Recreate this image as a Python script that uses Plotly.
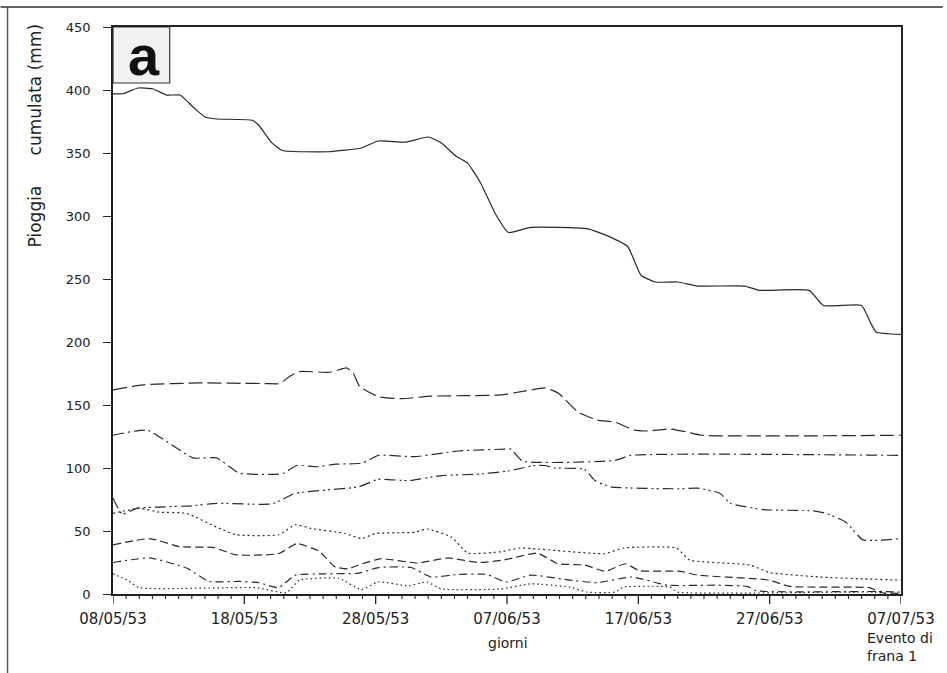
import pandas as pd
import plotly.graph_objects as go

# ---- data (days after 08/05/53, cumulative rainfall in mm) ----
start_date = "1953-05-08"
end_date = "1953-07-07"

s1_days = [0, 0.75, 1.9, 3, 4.1, 5.1, 6.1, 7, 7.9, 10.6, 11.1, 12.1, 12.9, 16.4, 18.9, 20.2, 22.3, 24, 25, 26.1, 27, 28, 29.1, 30.1, 31.8, 36.1, 37.7, 39.2, 40.2, 41.3, 43, 44.5, 48.1, 49.2, 53, 54.1, 57, 57.6, 58.1, 60]
s1_vals = [397, 397, 401.6, 401, 396, 396, 386.5, 378.6, 377, 376, 372, 358, 352, 351, 354, 359.5, 358.7, 362.7, 358, 347.6, 342, 326, 302, 287, 291, 290, 284, 275.6, 253, 247.6, 247.6, 244.4, 244.4, 241, 241, 229, 229, 217, 208, 206]

s2_days = [0, 2.3, 6.6, 11.7, 12.7, 13.5, 14.2, 16.5, 17.2, 17.8, 18.3, 18.8, 20.2, 21.9, 24.2, 29.5, 31.3, 32.9, 33.9, 35.4, 36.9, 38.2, 39.7, 40.7, 42.4, 43.7, 44.8, 60]
s2_vals = [162, 166, 167.5, 167, 167, 173, 176.5, 176, 178, 179.5, 175, 164.5, 156.6, 155, 157, 158, 161, 163.5, 159.5, 144.4, 138, 136.5, 130, 129.4, 131, 128.6, 126, 126]

s3_days = [0, 2.6, 6.1, 7.9, 9.6, 12.9, 14, 15.5, 17, 19, 20.2, 23, 26.3, 30, 30.3, 31.2, 38.2, 39.4, 60]
s3_vals = [126, 130, 108, 108, 96, 95.5, 102, 101, 103, 104, 110, 109, 113.5, 115, 115, 105.5, 106, 110, 110]

s4_days = [0, 0.7, 1.8, 3.5, 6, 7.9, 12.1, 13.9, 16.2, 18.7, 20.2, 22.5, 25, 27.6, 30.1, 32.1, 32.9, 33.6, 35.9, 36.7, 37.9, 43, 44.5, 46.2, 47, 49.5, 53.3, 54.3, 55.8, 57.1, 60]
s4_vals = [76, 63.5, 68, 69, 70, 72, 71.5, 80, 82.5, 85, 91, 90, 94, 95, 97.6, 102, 102, 100, 99, 90, 85, 83.5, 84, 80, 72, 67, 66, 64, 57, 43, 44]

s5_days = [0, 2, 3.5, 5.6, 7.9, 9.4, 12.6, 13.9, 15.1, 17.7, 18.9, 20, 23, 23.9, 25.8, 27, 29.5, 31, 37.4, 38.9, 42.9, 43.9, 48.5, 50, 53.8, 57.1, 60]
s5_vals = [64, 68, 65, 64, 53, 47, 47, 55, 52, 48, 44, 48, 49, 51.6, 45, 32.5, 33.5, 36.5, 32, 36.5, 36.5, 27, 23, 17, 13.5, 12, 11]

s6_days = [0, 2.8, 5.1, 7.6, 9.4, 12.6, 14, 15.7, 16.9, 17.9, 18.7, 20.4, 23.2, 25.5, 27.8, 29.8, 32.3, 33.9, 35.9, 37.5, 39, 40.1, 43.2, 44.5, 49, 50, 51.5, 57.6, 58.6, 60]
s6_vals = [39, 44, 37.5, 37, 31, 32, 40, 34, 21.5, 20, 23, 28, 24.6, 28.6, 25, 27, 32.5, 24, 23, 18, 24, 18.5, 18, 15, 12, 11, 6, 5, 1, 0.5]

s7_days = [0, 2.8, 5.6, 7.3, 9.6, 11.1, 12.6, 13.9, 16.2, 18.7, 20.2, 22.7, 24.2, 26.3, 28.5, 29.9, 31.8, 34.8, 36.9, 39.5, 42.2, 46.1, 48.3, 49, 58.6, 60]
s7_vals = [25, 28.6, 20.6, 10, 10, 9, 5, 15, 16, 16.5, 21, 21, 13.5, 15.5, 15.5, 9.5, 15, 11, 9, 13.5, 7, 7, 6, 2.5, 2, 1.5]

s8_days = [0, 1.1, 2, 10.9, 13.2, 14.2, 17.2, 18.9, 20.2, 22.5, 23.9, 25, 29.5, 31.8, 34.8, 36.1, 38.2, 38.9, 42.4, 43, 57.9, 59]
s8_vals = [16, 11, 5, 5, 1, 11, 12.5, 3.5, 9.6, 6.5, 9.6, 4, 4, 8, 5.5, 1.5, 1.5, 5.5, 5.5, 1.5, 1.5, 0]

y_ticks = [0, 50, 100, 150, 200, 250, 300, 350, 400, 450]

series = [
    (s1_days, s1_vals, "solid"),
    (s2_days, s2_vals, "14px,5px"),
    (s3_days, s3_vals, "11px,4px,2px,4px"),
    (s4_days, s4_vals, "11px,4px,2px,3px,2px,4px"),
    (s5_days, s5_vals, "2px,3px"),
    (s6_days, s6_vals, "8px,4px"),
    (s7_days, s7_vals, "8px,4px,2px,4px"),
    (s8_days, s8_vals, "1.5px,3px"),
]

base = pd.Timestamp(start_date)


def to_dates(days):
    return [base + pd.Timedelta(hours=24 * d) for d in days]


fig = go.Figure()
for d, v, dash in series:
    fig.add_trace(go.Scatter(
        x=to_dates(d), y=v, mode="lines",
        line=dict(color="#2a2a2a", width=1.2, dash=dash, shape="spline", smoothing=0.45),
        showlegend=False, hoverinfo="skip",
    ))

major_ticks = list(pd.date_range(start_date, end_date, freq="10D"))
day_ticks = list(pd.date_range(start_date, end_date, freq="1D"))

FONT = "DejaVu Sans"
PLOT_H = 567  # plot-area height in px (for tick lengths in paper units)
fig.update_layout(
    width=947, height=673,
    margin=dict(l=113, r=42, t=27, b=79),
    paper_bgcolor="white", plot_bgcolor="white",
    font=dict(family=FONT, color="#222", size=13),
)
fig.update_xaxes(
    type="date", range=[start_date, end_date],
    tickmode="array", tickvals=major_ticks, tickformat="%d/%m/%y",
    ticks="", ticklabelstandoff=10,
    showline=True, linecolor="#222", linewidth=1.5, mirror=True,
    showgrid=False, zeroline=False,
    tickfont=dict(family=FONT, size=15, color="#222"),
)
fig.update_yaxes(
    range=[0, 450], tickvals=y_ticks,
    ticks="outside", ticklen=8, tickcolor="#222", tickwidth=1.2,
    ticklabelstandoff=10,
    showline=True, linecolor="#222", linewidth=1.5, mirror=True,
    showgrid=False, zeroline=False,
    tickfont=dict(family=FONT, size=13, color="#222"),
)

# daily (minor) and 10-day (major) x ticks, drawn below the axis
major_set = set(major_ticks)
for t in day_ticks:
    ln = 10 if t in major_set else 5
    fig.add_shape(type="line", xref="x", yref="paper",
                  x0=t, x1=t, y0=0, y1=-ln / PLOT_H,
                  line=dict(color="#222", width=1.3 if ln == 10 else 1.1))

# panel label box "a"
fig.add_shape(type="rect", xref="paper", yref="paper",
              x0=0, x1=57 / 792, y0=(594 - 83) / 567, y1=1,
              line=dict(color="#333", width=1.2), fillcolor="#f1f1f1", layer="below")
fig.add_annotation(text="<b>a</b>", xref="paper", yref="paper",
                   x=31 / 792, y=(594 - 55) / 567, showarrow=False,
                   xanchor="center", yanchor="middle",
                   font=dict(family="Liberation Sans", size=56, color="#111"))

# axis titles
fig.add_annotation(text="giorni", xref="paper", yref="paper",
                   x=(510 - 113) / 792, y=(594 - 643) / 567, showarrow=False,
                   xanchor="center", yanchor="middle", font=dict(family=FONT, size=14, color="#222"))
fig.add_annotation(text="Evento di<br>frana 1", xref="paper", yref="paper",
                   x=(869 - 113) / 792, y=(594 - 647) / 567, showarrow=False, align="left",
                   xanchor="left", yanchor="middle", font=dict(family=FONT, size=14, color="#222"))
fig.add_annotation(text="Pioggia", xref="paper", yref="paper", textangle=-90,
                   x=(35 - 113) / 792, y=(594 - 216) / 567, showarrow=False,
                   xanchor="center", yanchor="middle", font=dict(family=FONT, size=17, color="#222"))
fig.add_annotation(text="cumulata (mm)", xref="paper", yref="paper", textangle=-90,
                   x=(35 - 113) / 792, y=(594 - 90) / 567, showarrow=False,
                   xanchor="center", yanchor="middle", font=dict(family=FONT, size=17, color="#222"))

# outer frame (top and left edges of the scanned page)
fig.add_shape(type="line", xref="paper", yref="paper",
              x0=-113 / 792, x1=(947 - 113) / 792, y0=(594 - 7) / 567, y1=(594 - 7) / 567,
              line=dict(color="#333", width=1.5))
fig.add_shape(type="line", xref="paper", yref="paper",
              x0=(7 - 113) / 792, x1=(7 - 113) / 792, y0=(594 - 7) / 567, y1=(594 - 673) / 567,
              line=dict(color="#555", width=1.5))

fig.write_html("out.html")
